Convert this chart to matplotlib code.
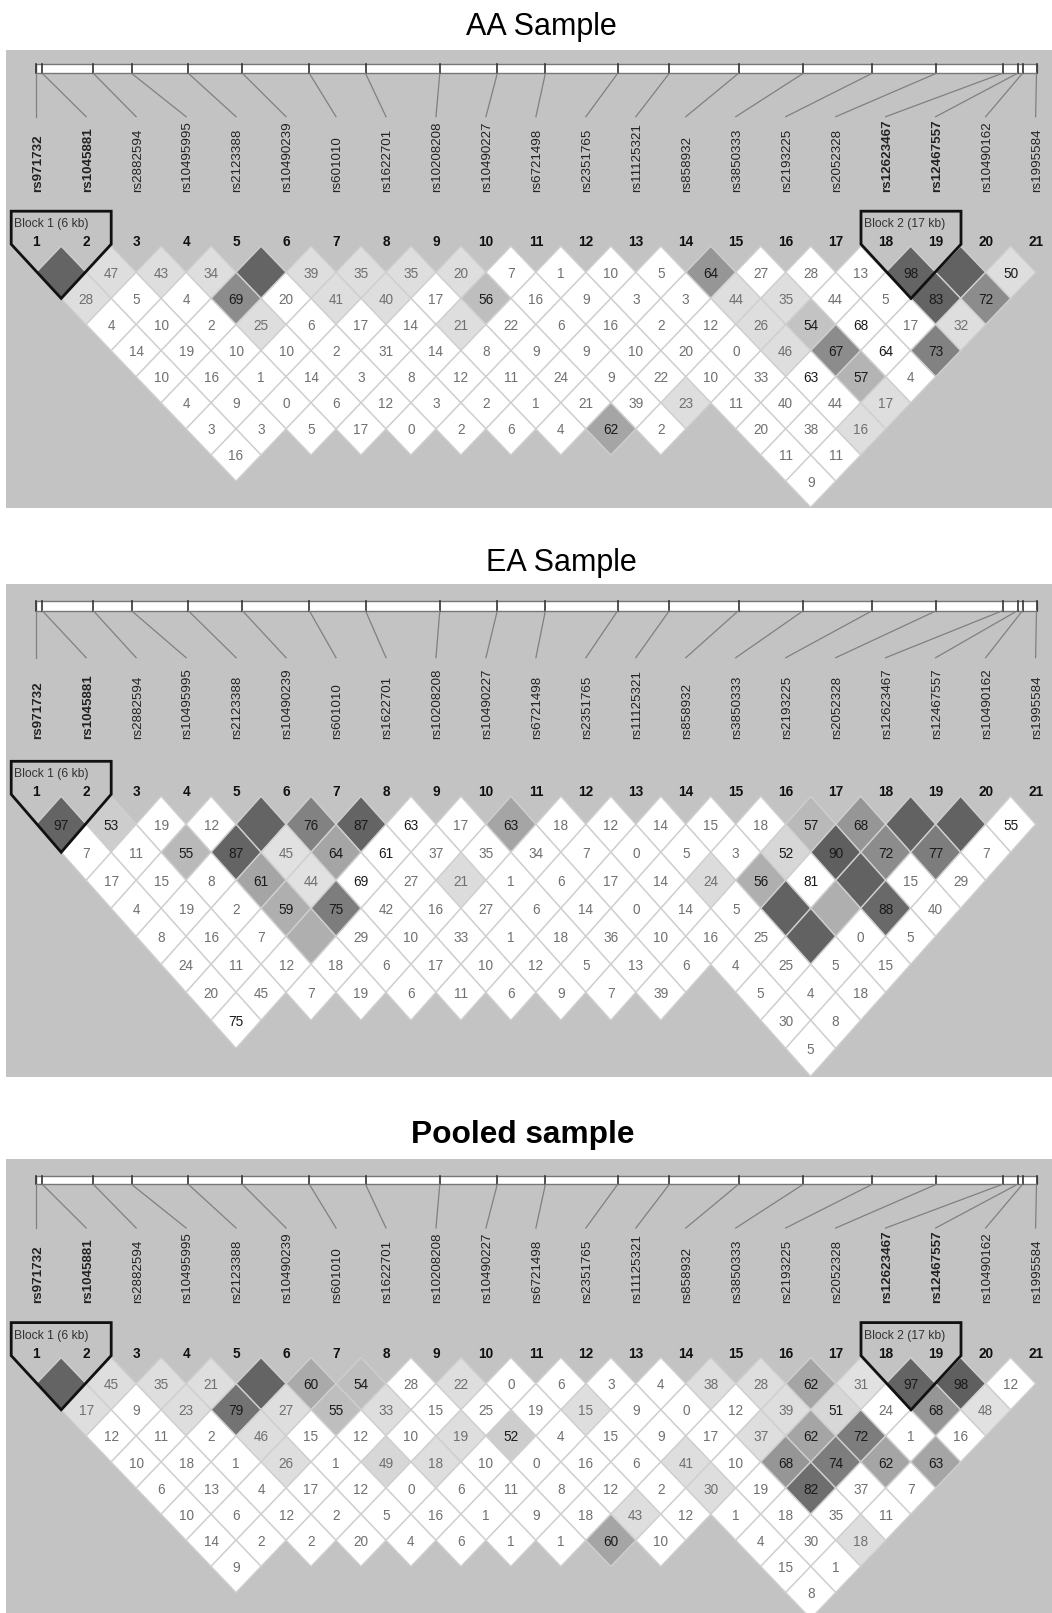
# LD plots (Haploview style) for the AA, EA and pooled samples
import matplotlib
matplotlib.use('Agg')
import matplotlib.pyplot as plt
from matplotlib.patches import Polygon, Rectangle

plt.rcParams['font.family'] = ['Liberation Sans', 'DejaVu Sans']

snps = ['rs971732', 'rs1045881', 'rs2882594', 'rs10495995', 'rs2123388', 'rs10490239', 'rs601010',
        'rs1622701', 'rs10208208', 'rs10490227', 'rs6721498', 'rs2351765', 'rs11125321', 'rs858932',
        'rs3850333', 'rs2193225', 'rs2052328', 'rs12623467', 'rs12467557', 'rs10490162', 'rs1995584']

# where each snp sits on the map bar
map_pos = [36.2, 42.3, 93.3, 131.5, 188.3, 242.4, 309.3, 365.5, 439.8, 497.3, 545.4,
           617.7, 669.3, 738.5, 803.3, 872.2, 936.4, 1002.5, 1017.5, 1022.5, 1036.5]

# D' values by row (distance between the snps), from first snp on.
# 100 = cell without number, None = no cell
aa_rows = [
    [100, 47, 43, 34, 100, 39, 35, 35, 20, 7, 1, 10, 5, 64, 27, 28, 13, 98, 100, 50],
    [28, 5, 4, 69, 20, 41, 40, 17, 56, 16, 9, 3, 3, 44, 35, 44, 5, 83, 72],
    [4, 10, 2, 25, 6, 17, 14, 21, 22, 6, 16, 2, 12, 26, 54, 68, 17, 32],
    [14, 19, 10, 10, 2, 31, 14, 8, 9, 9, 10, 20, 0, 46, 67, 64, 73],
    [10, 16, 1, 14, 3, 8, 12, 11, 24, 9, 22, 10, 33, 63, 57, 4],
    [4, 9, 0, 6, 12, 3, 2, 1, 21, 39, 23, 11, 40, 44, 17],
    [3, 3, 5, 17, 0, 2, 6, 4, 62, 2, None, 20, 38, 16],
    [16, None, None, None, None, None, None, None, None, None, None, 11, 11],
    [None, None, None, None, None, None, None, None, None, None, None, 9],
]
ea_rows = [
    [97, 53, 19, 12, 100, 76, 87, 63, 17, 63, 18, 12, 14, 15, 18, 57, 68, 100, 100, 55],
    [7, 11, 55, 87, 45, 64, 61, 37, 35, 34, 7, 0, 5, 3, 52, 90, 72, 77, 7],
    [17, 15, 8, 61, 44, 69, 27, 21, 1, 6, 17, 14, 24, 56, 81, 100, 15, 29],
    [4, 19, 2, 59, 75, 42, 16, 27, 6, 14, 0, 14, 5, 100, 100, 88, 40],
    [8, 16, 7, 100, 29, 10, 33, 1, 18, 36, 10, 16, 25, 100, 0, 5],
    [24, 11, 12, 18, 6, 17, 10, 12, 5, 13, 6, 4, 25, 5, 15],
    [20, 45, 7, 19, 6, 11, 6, 9, 7, 39, None, 5, 4, 18],
    [75, None, None, None, None, None, None, None, None, None, None, 30, 8],
    [None, None, None, None, None, None, None, None, None, None, None, 5],
]
pooled_rows = [
    [100, 45, 35, 21, 100, 60, 54, 28, 22, 0, 6, 3, 4, 38, 28, 62, 31, 97, 98, 12],
    [17, 9, 23, 79, 27, 55, 33, 15, 25, 19, 15, 9, 0, 12, 39, 51, 24, 68, 48],
    [12, 11, 2, 46, 15, 12, 10, 19, 52, 4, 15, 9, 17, 37, 62, 72, 1, 16],
    [10, 18, 1, 26, 1, 49, 18, 10, 0, 16, 6, 41, 10, 68, 74, 62, 63],
    [6, 13, 4, 17, 12, 0, 6, 11, 8, 12, 2, 30, 19, 82, 37, 7],
    [10, 6, 12, 2, 5, 16, 1, 9, 18, 43, 12, 1, 18, 35, 11],
    [14, 2, 2, 20, 4, 6, 1, 1, 60, 10, None, 4, 30, 18],
    [9, None, None, None, None, None, None, None, None, None, None, 15, 1],
    [None, None, None, None, None, None, None, None, None, None, None, 8],
]

# grey level of the shaded cells, (row, first snp): level. Everything else is white
aa_grey = {(1, 1): 100, (1, 2): 222, (1, 3): 222, (1, 4): 222, (1, 5): 100, (1, 6): 222, (1, 7): 222,
           (1, 8): 222, (1, 9): 222, (1, 14): 150, (1, 18): 100, (1, 19): 98, (1, 20): 222,
           (2, 1): 222, (2, 4): 140, (2, 6): 222, (2, 7): 222, (2, 9): 190, (2, 14): 222, (2, 15): 222,
           (2, 18): 100, (2, 19): 140,
           (3, 4): 222, (3, 8): 222, (3, 14): 222, (3, 15): 195, (3, 18): 222,
           (4, 14): 222, (4, 15): 140, (4, 17): 130,
           (5, 15): 180, (6, 11): 222, (6, 15): 222, (7, 9): 165, (7, 14): 222}
ea_grey = {(1, 1): 100, (1, 2): 205, (1, 5): 100, (1, 6): 130, (1, 7): 100, (1, 10): 165, (1, 16): 185,
           (1, 17): 150, (1, 18): 98, (1, 19): 98,
           (2, 3): 185, (2, 4): 100, (2, 5): 225, (2, 6): 165, (2, 15): 215, (2, 16): 95, (2, 17): 140,
           (2, 18): 125,
           (3, 4): 165, (3, 5): 225, (3, 8): 220, (3, 13): 220, (3, 14): 175, (3, 16): 98,
           (4, 4): 175, (4, 5): 125, (4, 14): 98, (4, 15): 175, (4, 16): 105,
           (5, 4): 175, (5, 14): 98}
pooled_grey = {(1, 1): 100, (1, 2): 222, (1, 3): 222, (1, 4): 222, (1, 5): 100, (1, 6): 170, (1, 7): 190,
               (1, 9): 222, (1, 14): 222, (1, 15): 222, (1, 16): 165, (1, 17): 225, (1, 18): 100, (1, 19): 95,
               (2, 1): 222, (2, 3): 222, (2, 4): 115, (2, 5): 222, (2, 6): 190, (2, 7): 222, (2, 11): 222,
               (2, 15): 222, (2, 16): 215, (2, 18): 150, (2, 19): 225,
               (3, 4): 222, (3, 8): 222, (3, 9): 205, (3, 14): 222, (3, 15): 165, (3, 16): 125,
               (4, 4): 222, (4, 6): 215, (4, 7): 222, (4, 12): 222, (4, 14): 150, (4, 15): 125, (4, 16): 165,
               (4, 17): 165,
               (5, 12): 222, (5, 14): 110, (6, 10): 222, (7, 9): 165, (7, 14): 222}

W, H = 1052, 1613
fig = plt.figure(figsize=(W / 100, H / 100), dpi=100)
ax = fig.add_axes([0, 0, 1, 1])
ax.set_xlim(0, W)
ax.set_ylim(H, 0)
ax.axis('off')

x0, dx, half_w = 36.2, 49.97, 24.98


def block(mid_x, row1_y, h):
    # pentagon round a haplotype block
    hw = 50
    pts = [(mid_x - hw, row1_y - h - 35), (mid_x + hw, row1_y - h - 35),
           (mid_x + hw, row1_y - h - 2), (mid_x, row1_y + h), (mid_x - hw, row1_y - h - 2)]
    ax.add_patch(Polygon(pts, closed=True, fill=False, edgecolor='#111111', lw=2, zorder=5))


def panel(top, bottom, title, title_x, title_y, bold_title, bar, line_end, label_bottom, num_y,
          row1_y, h, rows, grey, bold, blocks):
    ax.add_patch(Rectangle((6, top), W - 6, bottom - top, facecolor='#c3c3c3', edgecolor='none', zorder=0))
    ax.text(title_x, title_y, title, fontsize=22.8 if bold_title else 22, ha='center', va='baseline',
            color='black', fontweight='bold' if bold_title else 'normal')

    # map bar and connectors
    ax.add_patch(Rectangle((map_pos[0], bar[0]), map_pos[-1] - map_pos[0], bar[1] - bar[0],
                           facecolor='white', edgecolor='#777777', lw=1, zorder=1))
    for n, name in enumerate(snps):
        lx = x0 + dx * n
        ax.plot([map_pos[n], map_pos[n]], bar, color='#333333', lw=1.2, zorder=2)
        ax.plot([map_pos[n], lx], [bar[1], line_end], color='#808080', lw=0.9, zorder=2)
        ax.text(lx + 1.5, label_bottom, name, rotation=90, ha='center', va='bottom', fontsize=9.6,
                color='#222222', fontweight='bold' if name in bold else 'normal')
        ax.text(lx, num_y + 1.5, str(n + 1), ha='center', va='center', fontsize=9.8, fontweight='bold',
                color='#111111')

    # LD cells
    for r, vals in enumerate(rows, start=1):
        for i, v in enumerate(vals, start=1):
            if v is None:
                continue
            cx = x0 + dx * (i - 1) + half_w * r
            cy = row1_y + h * (r - 1)
            g = grey.get((r, i), 255) / 255
            ax.add_patch(Polygon([(cx, cy - h), (cx + half_w, cy), (cx, cy + h), (cx - half_w, cy)],
                                 closed=True, facecolor=(g, g, g), edgecolor='#cfcfcf', lw=1, zorder=3))
            if v != 100:
                ax.text(cx, cy + 1.5, str(v), ha='center', va='center', fontsize=9.8, zorder=4,
                        color='#1a1a1a' if v >= 50 else '#707070')

    for text, mid_x, text_x in blocks:
        block(mid_x, row1_y, h)
        ax.text(text_x, row1_y - h - 22, text, fontsize=8.7, ha='left', va='center', color='#333333', zorder=6)


block1 = ('Block 1 (6 kb)', 61.2, 14)
block2 = ('Block 2 (17 kb)', 911, 864.5)
four_bold = ['rs971732', 'rs1045881', 'rs12623467', 'rs12467557']

panel(49.5, 507.5, 'AA Sample', 541, 35, False, (64.3, 73.3), 116.7, 192.3, 241,
      272.3, 26.1, aa_rows, aa_grey, four_bold, [block1, block2])
panel(584.3, 1076.7, 'EA Sample', 561, 570.7, False, (601.3, 610.7), 657.7, 739, 790.7,
      824.3, 28, ea_rows, ea_grey, four_bold[:2], [block1])
panel(1159.3, H, 'Pooled sample', 523, 1143.3, True, (1175.7, 1184.3), 1228, 1303.3, 1352,
      1383.7, 26.1, pooled_rows, pooled_grey, four_bold, [block1, block2])

fig.savefig('out.png', dpi=100, facecolor='white')
